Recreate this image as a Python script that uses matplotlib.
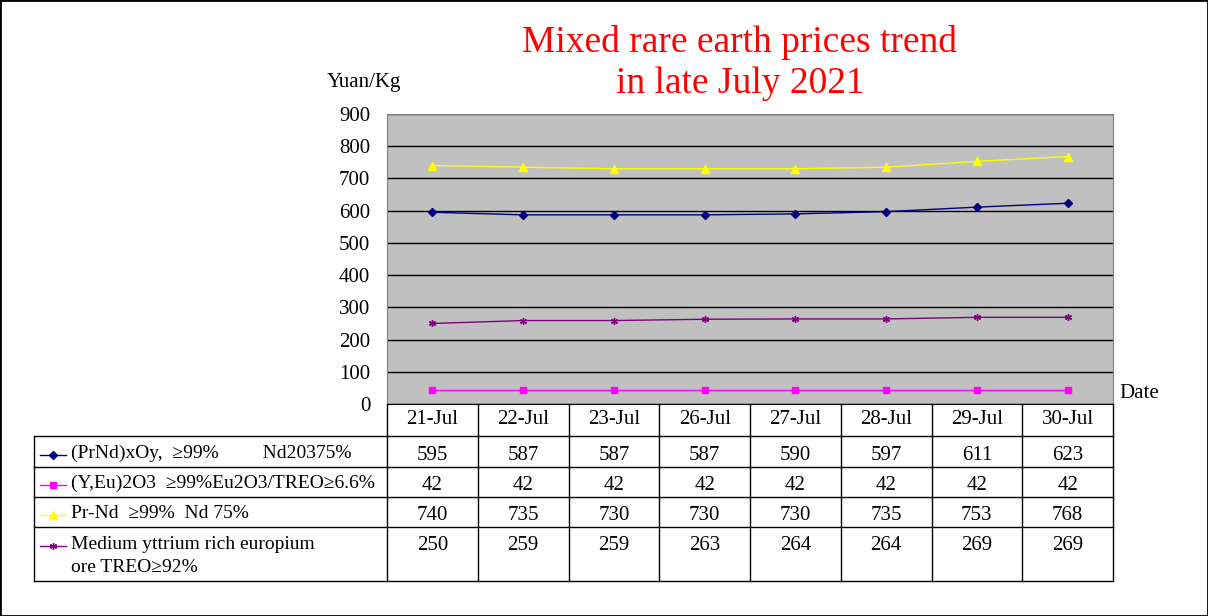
import matplotlib.pyplot as plt
from matplotlib.lines import Line2D
from matplotlib.patches import Rectangle

plt.rcParams['font.family'] = ['Liberation Serif', 'DejaVu Sans']

# datos
dates = ['21-Jul', '22-Jul', '23-Jul', '26-Jul', '27-Jul', '28-Jul', '29-Jul', '30-Jul']
prnd_oxide = [595, 587, 587, 587, 590, 597, 611, 623]
y_eu_oxide = [42, 42, 42, 42, 42, 42, 42, 42]
pr_nd = [740, 735, 730, 730, 730, 735, 753, 768]
medium_y = [250, 259, 259, 263, 264, 264, 269, 269]

series_names = ['(PrNd)xOy,  \u226599%         Nd20375%',
                '(Y,Eu)2O3  \u226599%Eu2O3/TREO\u22656.6%',
                'Pr-Nd  \u226599%  Nd 75%',
                'Medium yttrium rich europium\nore TREO\u226592%']
series_vals = [prnd_oxide, y_eu_oxide, pr_nd, medium_y]
colors = ['#000080', '#FF00FF', '#FFFF00', '#800080']
markers = ['D', 's', '^', (6, 2, 0)]
msizes = [4, 5, 6, 5]

W, H = 1208, 616
fig = plt.figure(figsize=(W / 100, H / 100), dpi=100)


def fx(x):
    return x / W


def fy(y):
    return 1 - y / H


# area del grafico
left, right, top, bottom = 387, 1113, 114, 404
ax = fig.add_axes([fx(left), fy(bottom), fx(right - left), (bottom - top) / H])
ax.set_facecolor('#C0C0C0')
x = list(range(len(dates)))
for vals, c, m, ms in zip(series_vals, colors, markers, msizes):
    ax.plot(x, vals, color=c, marker=m, markersize=ms, linewidth=1, zorder=3)
ax.set_xlim(-0.5, len(dates) - 0.5)
ax.set_ylim(0, 900)
ax.set_yticks(range(0, 901, 100))
ax.yaxis.grid(True, color='black', linewidth=1)
ax.set_axisbelow(True)
ax.set_xticks([])
ax.tick_params(axis='y', length=0, pad=12, labelsize=15)
for s in ax.spines.values():
    s.set_color('#808080')
ax.spines['bottom'].set_color('black')

# titulo y etiquetas
fig.text(fx(740), fy(42), 'Mixed rare earth prices trend', color='red',
         fontsize=27, ha='center', va='center')
fig.text(fx(740), fy(84), 'in late July 2021', color='red',
         fontsize=27, ha='center', va='center')
fig.text(fx(364), fy(82), 'Yuan/Kg', fontsize=15, ha='center', va='center')
fig.text(fx(1119), fy(394), 'Date', fontsize=15, ha='left', va='center')

# tabla de datos
col_w = (right - left) / len(dates)
rows = [436, 467, 497, 527, 581]
lk = dict(color='black', linewidth=1)


def hline(x0, x1, y):
    fig.add_artist(Line2D([fx(x0), fx(x1)], [fy(y), fy(y)], **lk))


def vline(x0, y0, y1):
    fig.add_artist(Line2D([fx(x0), fx(x0)], [fy(y0), fy(y1)], **lk))


for r in rows:
    hline(34, right, r)
vline(34, 436, 581)
for i in range(len(dates) + 1):
    vline(left + i * col_w, bottom, 581)

for i, d in enumerate(dates):
    fig.text(fx(left + (i + 0.5) * col_w), fy(420), d, fontsize=15,
             ha='center', va='center')

text_y = [455, 485, 515, 546]
for j, (name, vals, c, m, ms) in enumerate(zip(series_names, series_vals,
                                                 colors, markers, msizes)):
    yy = text_y[j]
    fig.add_artist(Line2D([fx(40), fx(66)], [fy(yy), fy(yy)], color=c,
                          linewidth=1))
    fig.add_artist(Line2D([fx(53)], [fy(yy)], color=c, marker=m,
                          markersize=ms, linestyle='none'))
    fig.text(fx(71), fy(yy - 10), name, fontsize=14, ha='left', va='top',
             linespacing=1.5)
    for i, v in enumerate(vals):
        fig.text(fx(left + (i + 0.5) * col_w), fy(yy), str(v), fontsize=15,
                 ha='center', va='center')

# borde exterior
fig.add_artist(Rectangle((0, 0), 1, 1, transform=fig.transFigure,
                         fill=False, edgecolor='black', linewidth=2))

fig.savefig('out.png', dpi=100)
